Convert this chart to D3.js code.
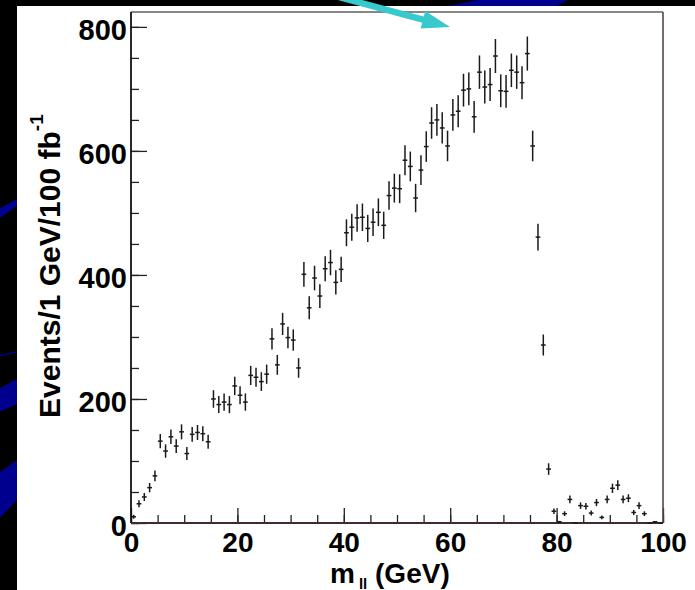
<!DOCTYPE html>
<html>
<head>
<meta charset="utf-8">
<script src="https://cdn.jsdelivr.net/npm/d3@7"></script>
<style>
  html, body { margin: 0; padding: 0; background: #000; }
  svg { display: block; }
</style>
</head>
<body>
<svg id="chart" width="695" height="590"></svg>
<script>
// ---- data (events per 1 GeV bin, m_ll from 0 to 100 GeV) ----
const binLow = d3.range(0, 100);           // lower edges of the 1 GeV bins
const counts = [
  10, 31, 42, 57, 76, 132, 116, 139, 124, 147, 112, 143, 146, 144, 131,
  200, 191, 195, 191, 221, 206, 195, 238, 235, 228, 240, 297, 255, 321, 299, 295, 250,
  401, 347, 395, 366, 410, 420, 388, 409, 468, 477, 492, 493, 475, 485, 501, 480,
  528, 540, 539, 585, 575, 524, 569, 607, 645, 650, 637, 608, 658, 664, 698, 700,
  655, 727, 703, 707, 753, 697, 696, 730, 727, 710, 757, 608, 461, 287, 87, 19,
  2, 15, 38, 0, 28, 27, 16, 33, 9, 38, 56, 61, 38, 40, 17, 28, 15, 0, 2, 0
];
const xMajorTicks = [0, 20, 40, 60, 80, 100];
const xMinorTicks = d3.range(0, 101, 5);
const yMajorTicks = [0, 200, 400, 600, 800];
const yMinorTicks = d3.range(0, 801, 50);

const svg = d3.select("#chart");
const W = 695, H = 590;
const FONT = "'Liberation Sans', Arial, Helvetica, sans-serif";

// ---- slide background ----
svg.append("rect").attr("width", W).attr("height", H).attr("fill", "#000");
const blue = "#00008e";
const streaks = [
  [[448, 6], [477, 0], [568, 0], [557, 6]],
  [[0, 208], [17, 199], [17, 206], [0, 218]],
  [[0, 355], [17, 351], [17, 352.5], [0, 356.5]],
  [[0, 388], [17, 379], [17, 404], [0, 412]],
  [[0, 472], [17, 460], [17, 500], [0, 518]]
];
svg.selectAll("polygon.streak").data(streaks).join("polygon")
  .attr("class", "streak")
  .attr("points", d => d.map(p => p.join(",")).join(" "))
  .attr("fill", blue);
svg.append("rect").attr("x", 17).attr("y", 6).attr("width", W - 17).attr("height", H - 6).attr("fill", "#fff");

// ---- scales ----
const x = d3.scaleLinear().domain([0, 100]).range([131, 663]);
const y = d3.scaleLinear().domain([0, 824]).range([523, 12]);

// ---- axes ----
const yMinor = svg.append("g").attr("transform", `translate(${x(0)},0)`)
  .call(d3.axisLeft(y).tickValues(yMinorTicks).tickSize(-8).tickFormat(""));
const yMajor = svg.append("g").attr("transform", `translate(${x(0)},0)`)
  .call(d3.axisLeft(y).tickValues(yMajorTicks).tickSize(-16).tickPadding(4).tickFormat(d3.format("d")));
const xMinor = svg.append("g").attr("transform", `translate(0,${y(0)})`)
  .call(d3.axisBottom(x).tickValues(xMinorTicks).tickSize(-8).tickFormat(""));
const xMajor = svg.append("g").attr("transform", `translate(0,${y(0)})`)
  .call(d3.axisBottom(x).tickValues(xMajorTicks).tickSize(-15).tickPadding(9).tickFormat(d3.format("d")));

[yMinor, yMajor, xMinor, xMajor].forEach(g => {
  g.select(".domain").remove();
  g.selectAll(".tick line").attr("stroke", "#222").attr("stroke-width", 1.3);
  g.selectAll(".tick text")
    .attr("fill", "#000")
    .style("font-family", FONT)
    .style("font-weight", "bold")
    .style("font-size", "29px");
});
yMajor.selectAll(".tick text").attr("dy", "0.42em");
xMajor.selectAll(".tick text").style("font-size", "28px");

// ---- frame ----
const frame = svg.append("g").attr("fill", "none");
frame.append("line").attr("x1", x(0)).attr("x2", x(0)).attr("y1", y(824)).attr("y2", y(0))
  .attr("stroke", "#111").attr("stroke-width", 1.8);
frame.append("line").attr("x1", x(0)).attr("x2", x(100)).attr("y1", y(824)).attr("y2", y(824))
  .attr("stroke", "#111").attr("stroke-width", 1.2);
frame.append("line").attr("x1", x(100)).attr("x2", x(100)).attr("y1", y(824)).attr("y2", y(0))
  .attr("stroke", "#5a4242").attr("stroke-width", 1.6);
frame.append("line").attr("x1", x(0)).attr("x2", x(100)).attr("y1", y(0)).attr("y2", y(0))
  .attr("stroke", "#3e2c2c").attr("stroke-width", 2);

// ---- data points with Poisson error bars ----
const pts = binLow.map((lo, i) => ({ lo, v: counts[i] }));
const gp = svg.append("g").attr("stroke", "#1a1a1a").attr("stroke-width", 1.5);
gp.selectAll("line.ey").data(pts).join("line")
  .attr("class", "ey")
  .attr("x1", d => x(d.lo + 0.5)).attr("x2", d => x(d.lo + 0.5))
  .attr("y1", d => y(d.v + Math.sqrt(d.v))).attr("y2", d => y(Math.max(0, d.v - Math.sqrt(d.v))));
gp.selectAll("line.ex").data(pts).join("line")
  .attr("class", "ex")
  .attr("x1", d => x(d.lo) + 0.3).attr("x2", d => x(d.lo + 1) - 0.3)
  .attr("y1", d => y(d.v)).attr("y2", d => y(d.v));

// ---- axis titles ----
const yt = svg.append("text")
  .attr("transform", "translate(60,418) rotate(-90)")
  .attr("fill", "#000")
  .style("font-family", FONT).style("font-weight", "bold").style("font-size", "30px");
yt.append("tspan").text("Events/1 GeV/100 fb");
yt.append("tspan").attr("dy", -17).style("font-size", "19px").text("-1");

const xt = svg.append("text")
  .attr("x", 330).attr("y", 583)
  .attr("fill", "#000")
  .style("font-family", FONT).style("font-weight", "bold").style("font-size", "28px");
xt.append("tspan").text("m");
xt.append("tspan").attr("dx", 4).attr("dy", 5.5).style("font-size", "15px").text("ll");
xt.append("tspan").attr("dy", -5.5).text(" (GeV)");

// ---- cyan arrow ----
const tip = [450, 27], dir = [100 / 103.6, 27 / 103.6], nrm = [-dir[1], dir[0]];
const headLen = 28, headHalf = 9, shaftHalf = 3.2, shaftLen = 140;
const base = [tip[0] - headLen * dir[0], tip[1] - headLen * dir[1]];
const tail = [tip[0] - shaftLen * dir[0], tip[1] - shaftLen * dir[1]];
const P = (p, s) => [p[0] + s * nrm[0], p[1] + s * nrm[1]];
const arrowPts = [P(tail, -shaftHalf), P(base, -shaftHalf), P(base, -headHalf), tip,
                  P(base, headHalf), P(base, shaftHalf), P(tail, shaftHalf)];
svg.append("polygon")
  .attr("points", arrowPts.map(p => p.join(",")).join(" "))
  .attr("fill", "#38c9cc");
</script>
</body>
</html>
